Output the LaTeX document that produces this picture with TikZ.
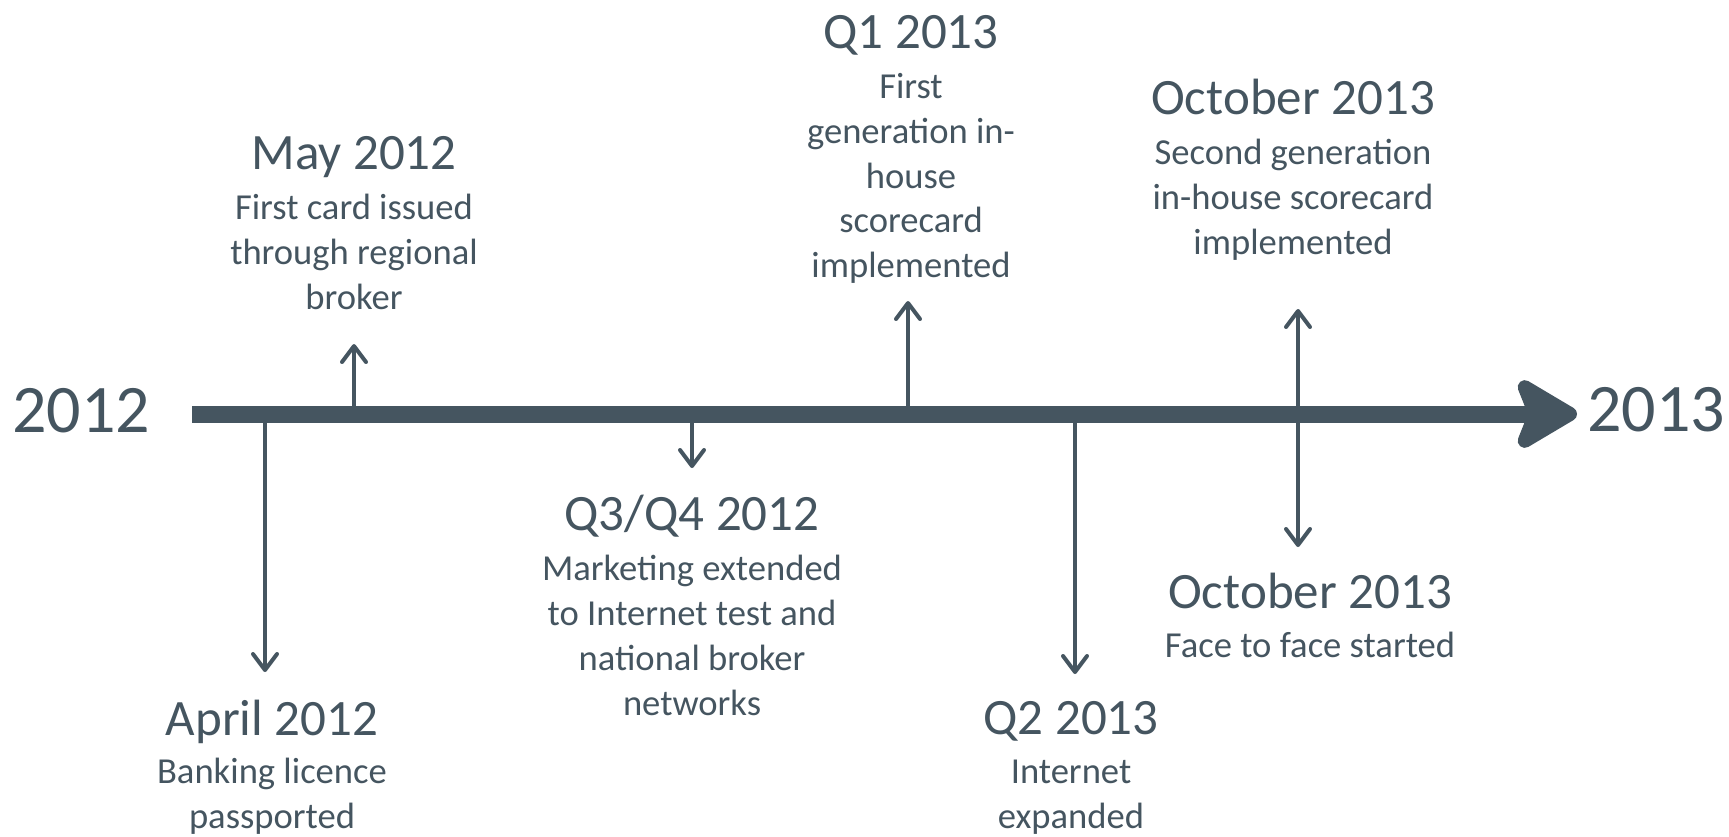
\documentclass[tikz,border=0pt]{standalone}
\usepackage{fontspec}
\setmainfont{Carlito}
\usetikzlibrary{arrows.meta,positioning}
\definecolor{cline}{RGB}{69,85,96}
\newcommand{\yrfont}{\fontsize{34}{40}\selectfont}
\newcommand{\ttlfont}{\fontsize{25.5}{30}\selectfont}
\newcommand{\txtfont}{\fontsize{18.3}{22.35}\selectfont}

\begin{document}
\begin{tikzpicture}[x=0.5pt,y=-0.5pt,
    yr/.style={cline,font=\yrfont,anchor=base,inner sep=0pt},
    ttl/.style={cline,font=\ttlfont,anchor=base,inner sep=0pt},
    txt/.style={cline,font=\txtfont,align=center,inner sep=0pt},
    evt/.style={cline,line width=2pt,-{Straight Barb[round,length=8pt,width=12pt]}},
    axis/.style={cline,line width=8.5pt,-{Stealth[round,length=36pt,width=42pt,inset=8pt]}}]
  \useasboundingbox (0,0) rectangle (1729,836);
  % time axis
  \node[yr] (y12) at (81,432) {2012};
  \node[yr] (y13) at (1656,431) {2013};
  \coordinate (ax-l) at (192,414);
  \coordinate (ax-r) at (1577,414);
  % points on the axis and arrow ends
  \coordinate (apr) at (265,414);   \coordinate (apr-e) at (265,672);
  \coordinate (may) at (354,414);   \coordinate (may-e) at (354,344);
  \coordinate (q34) at (692,414);   \coordinate (q34-e) at (692,468);
  \coordinate (q1) at (908,414);    \coordinate (q1-e) at (908,301);
  \coordinate (q2) at (1075,414);   \coordinate (q2-e) at (1075,674);
  \coordinate (oct) at (1298,414);  \coordinate (oct-u) at (1298,309);
  \coordinate (oct-d) at (1298,547);
  \draw[evt] (apr) -- (apr-e);
  \draw[evt] (may) -- (may-e);
  \draw[evt] (q34) -- (q34-e);
  \draw[evt] (q1) -- (q1-e);
  \draw[evt] (q2) -- (q2-e);
  \draw[evt] (oct) -- (oct-u);
  \draw[evt] (oct) -- (oct-d);
  \draw[axis] (ax-l) -- (ax-r);
  % events above
  \node[ttl] (may-t) at (354,169) {May 2012};
  \node[txt,below=9.6pt of may-t.base] (may-b) {\strut First card issued\\through regional\\broker};
  \node[ttl] (q1-t) at (911,48) {Q1 2013};
  \node[txt,below=9.6pt of q1-t.base] (q1-b) {\strut First\\generation in-\\house\\scorecard\\implemented};
  \node[ttl] (octu-t) at (1293,114) {October 2013};
  \node[txt,below=9.6pt of octu-t.base] (octu-b) {\strut Second generation\\in-house scorecard\\implemented};
  % events below
  \node[ttl] (q34-t) at (692,530) {Q3/Q4 2012};
  \node[txt,below=9.6pt of q34-t.base] (q34-b) {\strut Marketing extended\\to Internet test and\\national broker\\networks};
  \node[ttl] (apr-t) at (272,735) {April 2012};
  \node[txt,below=8.6pt of apr-t.base] (apr-b) {\strut Banking licence\\passported};
  \node[ttl] (q2-t) at (1071,734) {Q2 2013};
  \node[txt,below=9.1pt of q2-t.base] (q2-b) {\strut Internet\\expanded};
  \node[ttl] (octd-t) at (1310,608) {October 2013};
  \node[txt,below=8.8pt of octd-t.base] (octd-b) {\strut Face to face started};
\end{tikzpicture}
\end{document}
